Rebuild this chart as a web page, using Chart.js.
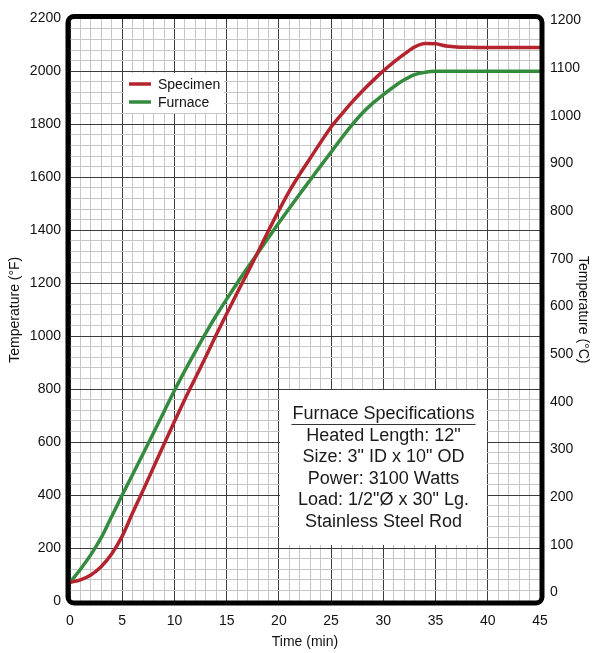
<!DOCTYPE html>
<html>
<head>
<meta charset="utf-8">
<script src="https://cdn.jsdelivr.net/npm/chart.js@4/dist/chart.umd.min.js"></script>
<style>
	html, body { margin: 0; padding: 0; background: #fff; }
	canvas { display: block; }
</style>
</head>
<body>
<canvas id="chart" width="595" height="653"></canvas>
<script>
// time in minutes
const time = [0, 1, 2, 3, 4, 5, 6, 7, 8, 9, 10, 11, 12, 13, 14, 15, 16, 17, 18, 19, 20, 21, 22,
	23, 24, 25, 26, 27, 28, 29, 30, 31, 32, 33, 34, 35, 36, 37, 38, 39, 40, 41, 42, 43, 44, 45];

// temperatures in °F
const specimen = [70, 80, 98, 130, 178, 245, 333, 418, 505, 592, 678, 762, 842, 922, 1005, 1085,
	1163, 1240, 1318, 1398, 1475, 1548, 1612, 1672, 1732, 1790, 1838, 1884, 1926, 1965, 2002, 2035,
	2065, 2092, 2105, 2104, 2096, 2092, 2091, 2090, 2090, 2090, 2090, 2090, 2090, 2090];
const furnace = [70, 120, 175, 240, 320, 400, 478, 556, 635, 715, 795, 870, 942, 1012, 1078, 1140,
	1200, 1258, 1315, 1372, 1428, 1483, 1537, 1590, 1643, 1695, 1748, 1798, 1843, 1880, 1912, 1942,
	1968, 1988, 1997, 2000, 2000, 2000, 2000, 2000, 2000, 2000, 2000, 2000, 2000, 2000];

// tick labels
const timeLabels = [0, 5, 10, 15, 20, 25, 30, 35, 40, 45];
const fLabels = [0, 200, 400, 600, 800, 1000, 1200, 1400, 1600, 1800, 2000, 2200];
const cLabels = [0, 100, 200, 300, 400, 500, 600, 700, 800, 900, 1000, 1100, 1200];

const specLines = [
	"Furnace Specifications",
	'Heated Length: 12"',
	'Size: 3" ID x 10" OD',
	"Power: 3100 Watts",
	'Load: 1/2"Ø x 30" Lg.',
	"Stainless Steel Rod",
];

const FONT = '"Liberation Sans", Arial, sans-serif';
const RED = "#b3242f";
const GREEN = "#348a3d";
const MAJOR = "#3c3c3c";
const MINOR = "#c6c6c6";

// minor grid every 1 min and every 40 °F
function gridTicks(max, step) {
	const t = [];
	for (let v = 0; v <= max; v += step) t.push({ value: v });
	return t;
}

const overlay = {
	id: "overlay",
	beforeDatasetsDraw(chart) {
		const ctx = chart.ctx;
		ctx.save();

		// legend
		ctx.fillStyle = "#fff";
		ctx.fillRect(124, 73, 100, 40);
		chart.data.datasets.forEach((ds, i) => {
			const yy = 84 + i * 18;
			ctx.strokeStyle = ds.borderColor;
			ctx.lineWidth = 3.5;
			ctx.beginPath();
			ctx.moveTo(129, yy);
			ctx.lineTo(151, yy);
			ctx.stroke();
			ctx.fillStyle = "#111";
			ctx.font = "14px " + FONT;
			ctx.textBaseline = "middle";
			ctx.textAlign = "left";
			ctx.fillText(ds.label, 158, yy + 1);
		});

		// specifications box
		ctx.fillStyle = "#fff";
		ctx.fillRect(280, 390, 207, 155);
		ctx.fillStyle = "#1a1a1a";
		ctx.font = "18px " + FONT;
		ctx.textAlign = "center";
		ctx.textBaseline = "alphabetic";
		specLines.forEach((s, i) => {
			ctx.fillText(s, 383.5, 419 + i * 21.5);
		});
		const w = ctx.measureText(specLines[0]).width;
		ctx.strokeStyle = "#333";
		ctx.lineWidth = 1.2;
		ctx.beginPath();
		ctx.moveTo(383.5 - w / 2 - 1, 424.5);
		ctx.lineTo(383.5 + w / 2 + 1, 424.5);
		ctx.stroke();
		ctx.restore();
	},
	afterDraw(chart) {
		const a = chart.chartArea;
		const ctx = chart.ctx;
		ctx.save();
		ctx.strokeStyle = "#000";
		ctx.lineWidth = 5;
		ctx.beginPath();
		ctx.roundRect(a.left - 2, a.top - 2, a.right - a.left + 4, a.bottom - a.top + 4, 6);
		ctx.stroke();
		ctx.restore();
	},
};

const tickFont = { family: FONT, size: 14 };

new Chart(document.getElementById("chart"), {
	type: "line",
	data: {
		datasets: [
			{
				label: "Specimen",
				data: time.map((t, i) => ({ x: t, y: specimen[i] })),
				borderColor: RED,
				borderWidth: 3.5,
				pointRadius: 0,
				cubicInterpolationMode: "monotone",
				yAxisID: "y",
			},
			{
				label: "Furnace",
				data: time.map((t, i) => ({ x: t, y: furnace[i] })),
				borderColor: GREEN,
				borderWidth: 3.5,
				pointRadius: 0,
				cubicInterpolationMode: "monotone",
				yAxisID: "y",
			},
		],
	},
	options: {
		responsive: false,
		animation: false,
		layout: { padding: { top: 14, left: 0, right: 0, bottom: 0 } },
		plugins: { legend: { display: false }, tooltip: { enabled: false } },
		scales: {
			x: {
				type: "linear",
				min: 0,
				max: 45,
				afterBuildTicks: (s) => { s.ticks = gridTicks(45, 1); },
				afterFit: (s) => { s.height = 52; },
				ticks: {
					autoSkip: false,
					maxRotation: 0,
					padding: 12,
					color: "#111",
					font: tickFont,
					callback: (v) => (timeLabels.includes(v) ? String(v) : ""),
				},
				grid: {
					drawTicks: false,
					color: (c) => (c.tick && c.tick.value % 5 === 0 ? MAJOR : MINOR),
				},
				border: { display: false },
				title: { display: true, text: "Time (min)", color: "#111", font: tickFont, padding: { top: 0, bottom: 2 } },
			},
			y: {
				position: "left",
				min: 0,
				max: 2200,
				afterBuildTicks: (s) => { s.ticks = gridTicks(2200, 40); },
				afterFit: (s) => { s.width = 70; },
				ticks: {
					autoSkip: false,
					padding: 9,
					color: "#111",
					font: tickFont,
					callback: (v) => (fLabels.includes(v) ? String(v) : ""),
				},
				grid: {
					drawTicks: false,
					color: (c) => (c.tick && c.tick.value % 200 === 0 ? MAJOR : MINOR),
				},
				border: { display: false },
				title: { display: true, text: "Temperature (°F)", color: "#111", font: tickFont, padding: { top: 7, bottom: 0 } },
			},
			yC: {
				position: "right",
				min: (0 - 32) / 1.8,
				max: (2200 - 32) / 1.8,
				afterBuildTicks: (s) => { s.ticks = cLabels.map((v) => ({ value: v })); },
				afterFit: (s) => { s.width = 55; },
				ticks: { autoSkip: false, padding: 10, color: "#111", font: tickFont, callback: (v) => String(v) },
				grid: { display: false, drawTicks: false },
				border: { display: false },
				title: { display: true, text: "Temperature (°C)", color: "#111", font: tickFont, padding: { top: 4, bottom: 0 } },
			},
		},
	},
	plugins: [overlay],
});
</script>
</body>
</html>
